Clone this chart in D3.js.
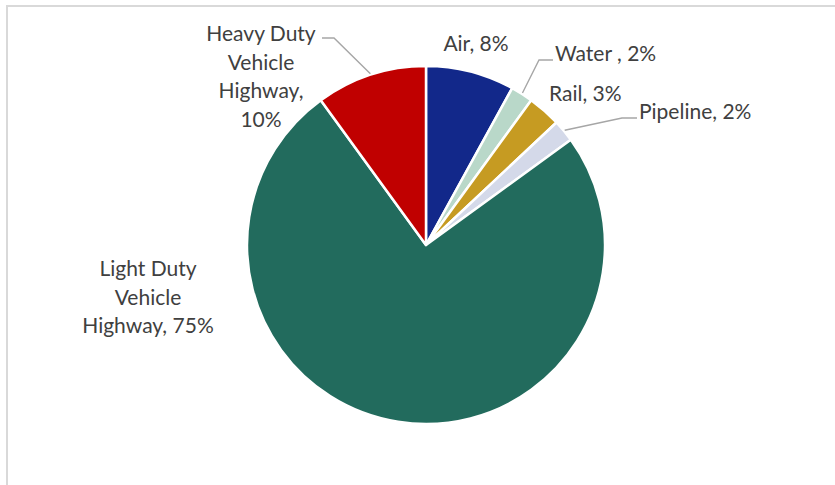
<!DOCTYPE html>
<html>
<head>
<meta charset="utf-8">
<script src="https://cdn.jsdelivr.net/npm/d3@7"></script>
<style>
  html, body { margin: 0; padding: 0; background: #fff; }
  svg { display: block; }
  text { font-family: Lato, "Liberation Sans", sans-serif; }
</style>
</head>
<body>
<svg id="chart" width="835" height="485"></svg>
<script>
// Transportation energy share by mode (percent)
const categories = ["Air", "Water ", "Rail", "Pipeline", "Light Duty Vehicle Highway", "Heavy Duty Vehicle Highway"];
const shares = [8, 2, 3, 2, 75, 10];
const sliceColors = ["#12288a", "#b9d8c9", "#c69b22", "#d4d9e9", "#226b5d", "#c00000"];

// Label lines (wrapped as they are shown) and placement around the pie
const labelLines = [
  ["Air, 8%"],
  ["Water , 2%"],
  ["Rail, 3%"],
  ["Pipeline, 2%"],
  ["Light Duty", "Vehicle", "Highway, 75%"],
  ["Heavy Duty", "Vehicle", "Highway,", "10%"]
];
const labelLayout = [
  { x: 476, y: 51, anchor: "middle", leader: null },
  { x: 555, y: 61, anchor: "start", leader: { hx: 539, hy: 60, from: 553 } },
  { x: 549, y: 101, anchor: "start", leader: null },
  { x: 639, y: 119, anchor: "start", leader: { hx: 622, hy: 118, from: 637 } },
  { x: 148, y: 276, anchor: "middle", leader: null },
  { x: 261, y: 41, anchor: "middle", leader: { hx: 334, hy: 38, from: 322 } }
];

const width = 835, height = 485;
const cx = 426, cy = 245, radius = 179;
const lineHeight = 28.6;

const svg = d3.select("#chart");

// Chart area frame
svg.append("path")
  .attr("d", `M7,${height} L7,6 L${width},6`)
  .attr("fill", "none")
  .attr("stroke", "#d9d9d9")
  .attr("stroke-width", 2);

const pie = d3.pie().sort(null).value(d => d).startAngle(0).endAngle(2 * Math.PI);
const arcs = pie(shares);
const arc = d3.arc().innerRadius(0).outerRadius(radius);

const g = svg.append("g").attr("transform", `translate(${cx},${cy})`);

g.selectAll("path.slice")
  .data(arcs)
  .join("path")
  .attr("class", "slice")
  .attr("d", arc)
  .attr("fill", (d, i) => sliceColors[i])
  .attr("stroke", "#ffffff")
  .attr("stroke-width", 2.5)
  .attr("stroke-linejoin", "round");

// Leader lines run from the label to the slice edge at its mid angle
arcs.forEach((d, i) => {
  const lay = labelLayout[i];
  if (!lay.leader) return;
  const mid = (d.startAngle + d.endAngle) / 2;
  const ex = cx + (radius + 1) * Math.sin(mid);
  const ey = cy - (radius + 1) * Math.cos(mid);
  svg.append("polyline")
    .attr("points", `${lay.leader.from},${lay.leader.hy} ${lay.leader.hx},${lay.leader.hy} ${ex},${ey}`)
    .attr("fill", "none")
    .attr("stroke", "#a6a6a6")
    .attr("stroke-width", 1.4);
});

// Data labels
labelLines.forEach((lines, i) => {
  const lay = labelLayout[i];
  const t = svg.append("text")
    .attr("x", lay.x)
    .attr("y", lay.y)
    .attr("text-anchor", lay.anchor)
    .attr("font-size", 21)
    .attr("fill", "#404040");
  lines.forEach((ln, j) => {
    t.append("tspan")
      .attr("x", lay.x)
      .attr("y", lay.y + j * lineHeight)
      .text(ln);
  });
});
</script>
</body>
</html>
